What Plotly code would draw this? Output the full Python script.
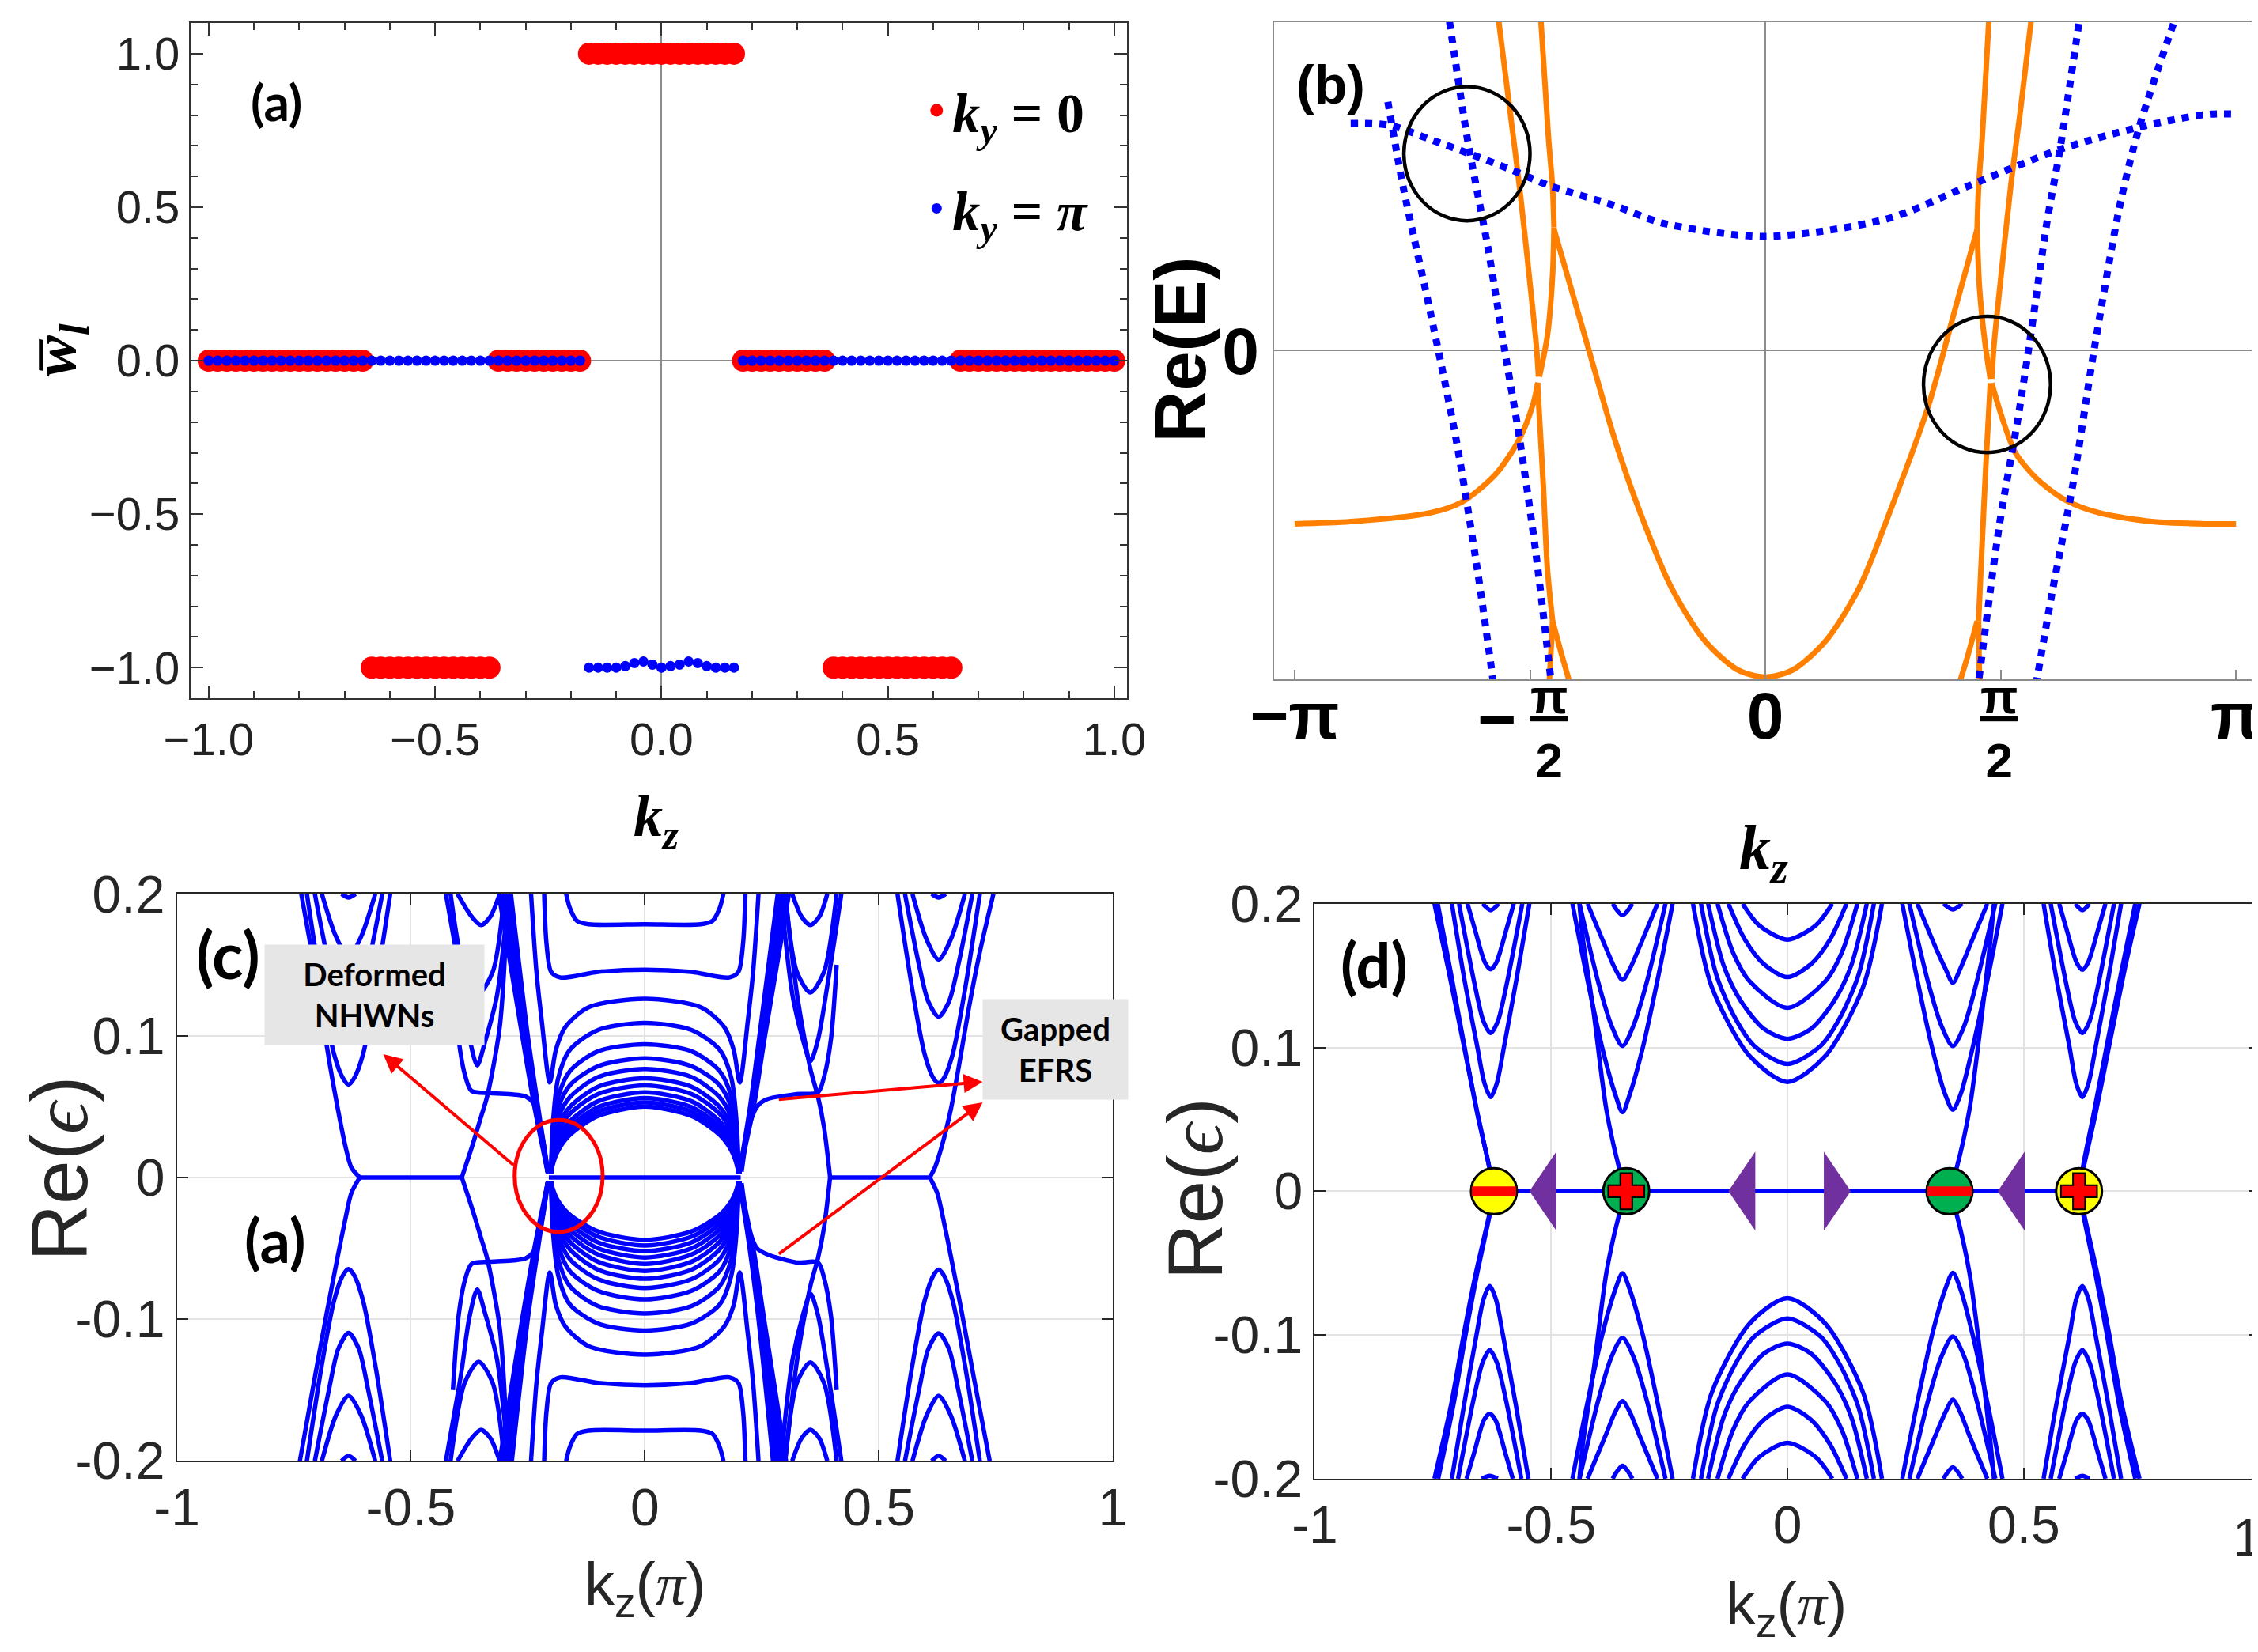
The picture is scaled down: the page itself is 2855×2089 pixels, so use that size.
import numpy as np
import plotly.graph_objects as go

# ---------------- panel (a): averaged winding number vs kz ----------------
kz_a = np.round(np.linspace(-1.0, 1.0, 101), 2)
w_ky0 = [0] * 18 + [-1] * 14 + [0] * 10 + [1] * 17 + [0] * 10 + [-1] * 14 + [0] * 18
w_kypi = ([0] * 42
          + [-1, -1, -1, -1, -0.995, -0.985, -0.98, -0.99, -1.0, -0.995, -0.99, -0.98, -0.985, -0.995, -1, -1, -1]
          + [0] * 42)

# ---------------- panel (b): Re(E) vs kz (x in units of pi) ----------------
b_orange = [
    ([-0.567, -0.545, -0.522, -0.500, -0.486, -0.482], [1.008, 0.757, 0.494, 0.204, 0.007, -0.079]),
    ([-0.477, -0.461, -0.452, -0.449], [1.008, 0.652, 0.494, 0.375]),
    ([-0.449, -0.452, -0.463, -0.480], [0.375, 0.231, 0.046, -0.079]),
    ([-0.449, -0.376, -0.32, -0.264, -0.20, -0.13, -0.06, 0.0, 0.06, 0.13, 0.20, 0.262, 0.346, 0.402, 0.450],
     [0.369, 0.007, -0.27, -0.50, -0.72, -0.88, -0.97, -0.993, -0.97, -0.88, -0.72, -0.50, -0.17, 0.12, 0.369]),
    ([-1.0, -0.881, -0.713, -0.645, -0.573, -0.523, -0.494, -0.483],
     [-0.527, -0.520, -0.494, -0.461, -0.376, -0.270, -0.165, -0.097]),
    ([-0.484, -0.472, -0.463, -0.452], [-0.099, -0.402, -0.665, -0.823]),
    ([-0.452, -0.459], [-0.823, -1.008]),
    ([-0.452, -0.432, -0.416], [-0.823, -0.929, -1.008]),
    ([0.475, 0.461, 0.453, 0.450], [1.008, 0.652, 0.494, 0.369]),
    ([0.450, 0.455, 0.467, 0.478], [0.369, 0.191, 0.020, -0.086]),
    ([0.565, 0.542, 0.523, 0.503, 0.486, 0.481], [1.008, 0.731, 0.520, 0.257, 0.020, -0.086]),
    ([0.481, 0.503, 0.531, 0.576, 0.638, 0.710, 0.822, 0.934, 1.0],
     [-0.099, -0.204, -0.310, -0.389, -0.455, -0.494, -0.520, -0.527, -0.527]),
    ([0.478, 0.469, 0.458, 0.453], [-0.099, -0.336, -0.665, -0.823]),
    ([0.453, 0.455], [-0.823, -1.008]),
    ([0.450, 0.430, 0.413], [-0.823, -0.929, -1.008]),
]
b_dotted = [
    ([-0.881, -0.80, -0.713, -0.629, -0.545, -0.455, -0.32, -0.219, 0.0, 0.262, 0.43, 0.626, 0.789, 0.934, 1.0],
     [0.691, 0.686, 0.643, 0.599, 0.553, 0.50, 0.441, 0.388, 0.347, 0.402, 0.50, 0.612, 0.678, 0.718, 0.72]),
    ([-0.802, -0.769, -0.713, -0.657, -0.612, -0.578], [0.757, 0.494, 0.125, -0.270, -0.665, -1.008]),
    ([-0.671, -0.634, -0.617, -0.589, -0.556, -0.522, -0.489, -0.455],
     [1.0, 0.652, 0.520, 0.310, 0.020, -0.270, -0.600, -1.008]),
    ([0.666, 0.626, 0.598, 0.565, 0.537, 0.497, 0.453], [0.994, 0.612, 0.388, 0.059, -0.204, -0.533, -1.008]),
    ([0.867, 0.794, 0.755, 0.699, 0.654, 0.610, 0.576], [0.994, 0.678, 0.454, 0.007, -0.402, -0.731, -1.008]),
]
b_circles = [(-0.634, 0.599, 0.134, 0.204), (0.471, -0.103, 0.135, 0.207)]

# ---------------- panel (c): deformed spectrum ----------------
c_eye_x = [-0.2, -0.197, -0.185, -0.16, -0.1, 0, 0.1, 0.16, 0.185, 0.197, 0.2]
c_eye_upper = [
    [0.003, 0.035, 0.07, 0.09, 0.104, 0.109, 0.104, 0.09, 0.07, 0.035, 0.003],
    [0.003, 0.028, 0.057, 0.075, 0.089, 0.094, 0.089, 0.075, 0.057, 0.028, 0.003],
    [0.003, 0.0235, 0.049, 0.065, 0.0785, 0.084, 0.0785, 0.065, 0.049, 0.0235, 0.003],
    [0.003, 0.02, 0.042, 0.0566, 0.0708, 0.0765, 0.0708, 0.0566, 0.042, 0.02, 0.003],
    [0.003, 0.017, 0.0364, 0.0497, 0.064, 0.070, 0.064, 0.0497, 0.0364, 0.017, 0.003],
    [0.003, 0.015, 0.032, 0.0449, 0.0588, 0.065, 0.0588, 0.0449, 0.032, 0.015, 0.003],
    [0.003, 0.013, 0.0276, 0.0396, 0.0537, 0.060, 0.0537, 0.0396, 0.0276, 0.013, 0.003],
    [0.003, 0.0112, 0.024, 0.0358, 0.0496, 0.056, 0.0496, 0.0358, 0.024, 0.0112, 0.003],
    [0.003, 0.0098, 0.0215, 0.0329, 0.0464, 0.053, 0.0464, 0.0329, 0.0215, 0.0098, 0.003],
    [0.003, 0.0085, 0.019, 0.030, 0.0433, 0.050, 0.0433, 0.030, 0.019, 0.0085, 0.003],
]
c_eye_lower = [
    [-0.003, -0.0075, -0.0167, -0.0264, -0.0381, -0.044, -0.0381, -0.0264, -0.0167, -0.0075, -0.003],
    [-0.003, -0.0086, -0.0187, -0.0293, -0.0418, -0.048, -0.0418, -0.0293, -0.0187, -0.0086, -0.003],
    [-0.003, -0.0099, -0.0213, -0.0328, -0.0458, -0.052, -0.0458, -0.0328, -0.0213, -0.0099, -0.003],
    [-0.003, -0.0113, -0.0243, -0.0367, -0.050, -0.0565, -0.050, -0.0367, -0.0243, -0.0113, -0.003],
    [-0.003, -0.0128, -0.0275, -0.0409, -0.0543, -0.061, -0.0543, -0.0409, -0.0275, -0.0128, -0.003],
    [-0.003, -0.0145, -0.031, -0.0455, -0.0594, -0.066, -0.0594, -0.0455, -0.031, -0.0145, -0.003],
    [-0.003, -0.0168, -0.0358, -0.0508, -0.0651, -0.0715, -0.0651, -0.0508, -0.0358, -0.0168, -0.003],
    [-0.003, -0.0195, -0.0413, -0.0577, -0.0718, -0.078, -0.0718, -0.0577, -0.0413, -0.0195, -0.003],
    [-0.003, -0.0232, -0.0482, -0.0662, -0.080, -0.086, -0.080, -0.0662, -0.0482, -0.0232, -0.003],
    [-0.003, -0.0278, -0.0576, -0.0768, -0.0907, -0.096, -0.0907, -0.0768, -0.0576, -0.0278, -0.003],
    [-0.003, -0.0346, -0.0691, -0.0896, -0.1031, -0.108, -0.1031, -0.0896, -0.0691, -0.0346, -0.003],
]
c_outer_arcs = [
    ([-0.243, -0.232, -0.22, -0.203, -0.19, -0.17, -0.12, 0, 0.12, 0.17, 0.19, 0.203, 0.22, 0.232, 0.243],
     [0.2, 0.147, 0.11, 0.067, 0.09, 0.106, 0.12, 0.126, 0.12, 0.106, 0.09, 0.067, 0.11, 0.147, 0.2]),
    ([-0.243, -0.232, -0.22, -0.203, -0.19, -0.17, -0.12, 0, 0.12, 0.17, 0.19, 0.203, 0.22, 0.232, 0.243],
     [-0.2, -0.147, -0.11, -0.067, -0.09, -0.105, -0.119, -0.125, -0.119, -0.105, -0.09, -0.067, -0.11, -0.147, -0.2]),
]
c_flat_bands = [
    ([-0.168, -0.16, -0.145, -0.12, 0, 0.12, 0.145, 0.16, 0.168], [0.2, 0.19, 0.181, 0.1786, 0.1786, 0.1786, 0.181, 0.19, 0.2]),
    ([-0.215, -0.21, -0.2, -0.18, -0.1, 0, 0.1, 0.18, 0.2, 0.21, 0.215],
     [0.2, 0.165, 0.145, 0.141, 0.145, 0.1466, 0.145, 0.141, 0.145, 0.165, 0.2]),
    ([-0.168, -0.16, -0.145, -0.12, 0, 0.12, 0.145, 0.16, 0.168], [-0.2, -0.19, -0.181, -0.1786, -0.1786, -0.1786, -0.181, -0.19, -0.2]),
    ([-0.215, -0.21, -0.2, -0.18, -0.1, 0, 0.1, 0.18, 0.2, 0.21, 0.215],
     [-0.2, -0.165, -0.145, -0.141, -0.145, -0.1466, -0.145, -0.141, -0.145, -0.165, -0.2]),
]
c_zero_lines = [
    ([-0.205, 0.205], [0, 0]),
    ([-0.609, -0.391], [0, 0]),
    ([0.396, 0.609], [0, 0]),
]
c_bundles = [
    ([-0.312, -0.262, -0.236, -0.207], [0.2, 0.1, 0.05, 0.003]),
    ([-0.305, -0.259, -0.234, -0.207], [0.2, 0.1, 0.05, 0.003]),
    ([-0.298, -0.256, -0.232, -0.207], [0.2, 0.1, 0.05, 0.003]),
    ([-0.292, -0.253, -0.230, -0.207], [0.2, 0.1, 0.05, 0.003]),
    ([-0.286, -0.250, -0.228, -0.207], [0.2, 0.1, 0.05, 0.003]),
    ([-0.310, -0.262, -0.236, -0.207], [-0.2, -0.1, -0.05, -0.003]),
    ([-0.303, -0.259, -0.234, -0.207], [-0.2, -0.1, -0.05, -0.003]),
    ([-0.296, -0.256, -0.232, -0.207], [-0.2, -0.1, -0.05, -0.003]),
    ([-0.290, -0.253, -0.230, -0.207], [-0.2, -0.1, -0.05, -0.003]),
    ([-0.284, -0.250, -0.228, -0.207], [-0.2, -0.1, -0.05, -0.003]),
    ([0.284, 0.245, 0.225, 0.202], [0.2, 0.1, 0.05, 0.003]),
    ([0.290, 0.248, 0.227, 0.202], [0.2, 0.1, 0.05, 0.003]),
    ([0.296, 0.251, 0.229, 0.202], [0.2, 0.1, 0.05, 0.003]),
    ([0.302, 0.254, 0.231, 0.202], [0.2, 0.1, 0.05, 0.003]),
    ([0.308, 0.257, 0.233, 0.202], [0.2, 0.1, 0.05, 0.003]),
    ([0.274, 0.243, 0.224, 0.202], [-0.2, -0.1, -0.05, -0.003]),
    ([0.281, 0.246, 0.226, 0.202], [-0.2, -0.1, -0.05, -0.003]),
    ([0.288, 0.249, 0.228, 0.202], [-0.2, -0.1, -0.05, -0.003]),
    ([0.295, 0.252, 0.230, 0.202], [-0.2, -0.1, -0.05, -0.003]),
    ([0.302, 0.255, 0.232, 0.202], [-0.2, -0.1, -0.05, -0.003]),
]
c_inner_left = [
    ([-0.41, -0.398, -0.384, -0.37, -0.33, -0.28, -0.254, -0.237, -0.222, -0.207],
     [0.15, 0.098, 0.072, 0.061, 0.0595, 0.0585, 0.057, 0.052, 0.035, 0.004]),
    ([-0.41, -0.398, -0.384, -0.37, -0.33, -0.28, -0.254, -0.237, -0.222, -0.207],
     [-0.15, -0.098, -0.072, -0.061, -0.0595, -0.0585, -0.057, -0.052, -0.035, -0.004]),
    ([-0.391, -0.367, -0.35, -0.338, -0.327, -0.31, -0.30, -0.295], [0, 0.024, 0.0426, 0.0556, 0.0724, 0.106, 0.15, 0.2]),
    ([-0.391, -0.367, -0.35, -0.338, -0.327, -0.31, -0.30, -0.295], [0, -0.024, -0.0426, -0.0556, -0.0724, -0.106, -0.15, -0.2]),
    ([-0.425, -0.392, -0.375, -0.358, -0.342, -0.316, -0.30, -0.292], [0.2, 0.1375, 0.099, 0.079, 0.095, 0.128, 0.17, 0.2]),
    ([-0.415, -0.385, -0.355, -0.325, -0.30], [0.2, 0.145, 0.13, 0.145, 0.2]),
    ([-0.40, -0.37, -0.35, -0.33, -0.31], [0.2, 0.184, 0.178, 0.184, 0.2]),
    ([-0.425, -0.392, -0.375, -0.358, -0.342, -0.316, -0.30, -0.292], [-0.2, -0.1375, -0.099, -0.079, -0.095, -0.128, -0.17, -0.2]),
    ([-0.415, -0.385, -0.355, -0.325, -0.30], [-0.2, -0.145, -0.13, -0.145, -0.2]),
    ([-0.40, -0.37, -0.35, -0.33, -0.31], [-0.2, -0.184, -0.178, -0.184, -0.2]),
]
c_inner_right = [
    ([0.207, 0.222, 0.24, 0.26, 0.3245, 0.37, 0.384, 0.398, 0.41], [0.004, 0.035, 0.05, 0.055, 0.0588, 0.06, 0.072, 0.098, 0.15]),
    ([0.207, 0.222, 0.24, 0.26, 0.3245, 0.37, 0.384, 0.398, 0.41], [-0.004, -0.035, -0.05, -0.054, -0.06, -0.06, -0.072, -0.098, -0.15]),
    ([0.396, 0.383, 0.37, 0.355, 0.34, 0.325, 0.31, 0.30], [0, 0.0354, 0.057, 0.075, 0.1, 0.13, 0.17, 0.2]),
    ([0.396, 0.383, 0.37, 0.355, 0.34, 0.325, 0.31, 0.30], [0, -0.0354, -0.057, -0.075, -0.1, -0.13, -0.17, -0.2]),
    ([0.292, 0.30, 0.316, 0.338, 0.354, 0.37, 0.39, 0.42], [0.2, 0.17, 0.128, 0.097, 0.082, 0.097, 0.135, 0.2]),
    ([0.30, 0.325, 0.354, 0.383, 0.41], [0.2, 0.145, 0.1305, 0.145, 0.2]),
    ([0.315, 0.335, 0.354, 0.373, 0.39], [0.2, 0.184, 0.178, 0.184, 0.2]),
    ([0.292, 0.30, 0.316, 0.338, 0.354, 0.37, 0.39, 0.42], [-0.2, -0.17, -0.128, -0.097, -0.082, -0.097, -0.135, -0.2]),
    ([0.30, 0.325, 0.354, 0.383, 0.41], [-0.2, -0.145, -0.1305, -0.145, -0.2]),
    ([0.315, 0.335, 0.354, 0.373, 0.39], [-0.2, -0.184, -0.178, -0.184, -0.2]),
]
c_outer_left = [
    ([-0.722, -0.691, -0.664, -0.645, -0.633, -0.621, -0.602, -0.575, -0.544], [0.2, 0.134, 0.087, 0.07, 0.0655, 0.07, 0.087, 0.134, 0.2]),
    ([-0.705, -0.675, -0.655, -0.633, -0.611, -0.591, -0.561], [0.2, 0.15, 0.124, 0.112, 0.124, 0.15, 0.2]),
    ([-0.69, -0.66, -0.633, -0.606, -0.576], [0.2, 0.17, 0.1555, 0.17, 0.2]),
    ([-0.648, -0.633, -0.618], [0.2, 0.1975, 0.2]),
    ([-0.722, -0.691, -0.664, -0.645, -0.633, -0.621, -0.602, -0.575, -0.544], [-0.2, -0.134, -0.087, -0.069, -0.0646, -0.069, -0.087, -0.134, -0.2]),
    ([-0.705, -0.675, -0.655, -0.633, -0.611, -0.591, -0.561], [-0.2, -0.15, -0.121, -0.1097, -0.121, -0.15, -0.2]),
    ([-0.69, -0.66, -0.633, -0.606, -0.576], [-0.2, -0.168, -0.154, -0.168, -0.2]),
    ([-0.648, -0.633, -0.618], [-0.2, -0.1965, -0.2]),
    ([-0.609, -0.627, -0.640, -0.656, -0.673, -0.692, -0.711, -0.734], [0, 0.007, 0.0224, 0.0484, 0.0796, 0.1185, 0.1575, 0.2]),
    ([-0.609, -0.627, -0.640, -0.656, -0.679, -0.705, -0.737], [0, -0.011, -0.0296, -0.0555, -0.0945, -0.141, -0.2]),
]
c_outer_right = [
    ([0.54, 0.571, 0.598, 0.617, 0.628, 0.639, 0.658, 0.685, 0.716], [0.2, 0.134, 0.087, 0.07, 0.0666, 0.07, 0.087, 0.134, 0.2]),
    ([0.556, 0.586, 0.606, 0.628, 0.65, 0.67, 0.70], [0.2, 0.15, 0.124, 0.1134, 0.124, 0.15, 0.2]),
    ([0.572, 0.602, 0.628, 0.654, 0.684], [0.2, 0.168, 0.1537, 0.168, 0.2]),
    ([0.613, 0.628, 0.643], [0.2, 0.1975, 0.2]),
    ([0.54, 0.571, 0.598, 0.617, 0.628, 0.639, 0.658, 0.685, 0.716], [-0.2, -0.134, -0.087, -0.069, -0.065, -0.069, -0.087, -0.134, -0.2]),
    ([0.556, 0.586, 0.606, 0.628, 0.65, 0.67, 0.70], [-0.2, -0.15, -0.121, -0.11, -0.121, -0.15, -0.2]),
    ([0.572, 0.602, 0.628, 0.654, 0.684], [-0.2, -0.168, -0.154, -0.168, -0.2]),
    ([0.613, 0.628, 0.643], [-0.2, -0.1965, -0.2]),
    ([0.609, 0.62, 0.635, 0.654, 0.672, 0.692, 0.715, 0.745], [0, 0.007, 0.0224, 0.048, 0.08, 0.1185, 0.1575, 0.2]),
    ([0.609, 0.625, 0.638, 0.654, 0.677, 0.703, 0.737], [0, -0.011, -0.0296, -0.0555, -0.0945, -0.141, -0.2]),
]

# ---------------- panel (d): spectrum with Weyl nodes ----------------
d_group1 = [
    ([-0.621, -0.633, -0.656, -0.684, -0.718, -0.747], [0, 0.02, 0.054, 0.1, 0.155, 0.2]),
    ([-0.621, -0.633, -0.656, -0.683, -0.714, -0.740], [0, 0.02, 0.054, 0.1, 0.155, 0.2]),
    ([-0.71, -0.685, -0.656, -0.641, -0.628, -0.615, -0.600, -0.572, -0.546], [0.2, 0.15, 0.1, 0.075, 0.0655, 0.075, 0.1, 0.15, 0.2]),
    ([-0.695, -0.661, -0.643, -0.628, -0.613, -0.595, -0.561], [0.2, 0.1426, 0.118, 0.110, 0.118, 0.1426, 0.2]),
    ([-0.677, -0.661, -0.640, -0.628, -0.616, -0.595, -0.579], [0.2, 0.1817, 0.159, 0.1543, 0.159, 0.1817, 0.2]),
    ([-0.645, -0.628, -0.611], [0.2, 0.1955, 0.2]),
    ([-0.621, -0.632, -0.66, -0.684, -0.712, -0.747], [0, -0.018, -0.058, -0.098, -0.149, -0.2]),
    ([-0.621, -0.631, -0.657, -0.680, -0.707, -0.739], [0, -0.018, -0.058, -0.098, -0.149, -0.2]),
    ([-0.71, -0.685, -0.658, -0.643, -0.630, -0.617, -0.602, -0.574, -0.548], [-0.2, -0.15, -0.1, -0.075, -0.066, -0.075, -0.1, -0.15, -0.2]),
    ([-0.697, -0.663, -0.645, -0.630, -0.615, -0.597, -0.563], [-0.2, -0.143, -0.119, -0.1105, -0.119, -0.143, -0.2]),
    ([-0.679, -0.663, -0.642, -0.630, -0.618, -0.597, -0.581], [-0.2, -0.182, -0.159, -0.1548, -0.159, -0.182, -0.2]),
    ([-0.647, -0.630, -0.613], [-0.2, -0.198, -0.2]),
]
d_group2 = [
    ([-0.341, -0.355, -0.383, -0.41, -0.433, -0.44], [0, 0.0148, 0.0565, 0.1243, 0.176, 0.2]),
    ([-0.455, -0.425, -0.392, -0.365, -0.349, -0.333, -0.306, -0.273, -0.243], [0.2, 0.15, 0.1, 0.068, 0.055, 0.068, 0.1, 0.15, 0.2]),
    ([-0.44, -0.40, -0.372, -0.349, -0.326, -0.298, -0.258], [0.2, 0.145, 0.115, 0.101, 0.115, 0.145, 0.2]),
    ([-0.423, -0.385, -0.365, -0.349, -0.333, -0.313, -0.275], [0.2, 0.17, 0.155, 0.147, 0.155, 0.17, 0.2]),
    ([-0.37, -0.349, -0.328], [0.2, 0.192, 0.2]),
    ([-0.341, -0.355, -0.383, -0.41, -0.433, -0.44], [0, -0.0148, -0.0565, -0.1243, -0.176, -0.2]),
    ([-0.455, -0.425, -0.392, -0.365, -0.349, -0.333, -0.306, -0.273, -0.243], [-0.2, -0.15, -0.1, -0.069, -0.057, -0.069, -0.1, -0.15, -0.2]),
    ([-0.44, -0.40, -0.372, -0.349, -0.326, -0.298, -0.258], [-0.2, -0.145, -0.115, -0.102, -0.115, -0.145, -0.2]),
    ([-0.423, -0.385, -0.365, -0.349, -0.333, -0.313, -0.275], [-0.2, -0.17, -0.154, -0.146, -0.154, -0.17, -0.2]),
    ([-0.37, -0.349, -0.328], [-0.2, -0.191, -0.2]),
]
d_center = [
    ([-0.2, -0.16, -0.08, 0, 0.08, 0.16, 0.2], [0.2, 0.142, 0.094, 0.076, 0.094, 0.142, 0.2]),
    ([-0.183, -0.15, -0.11, -0.07, 0, 0.07, 0.11, 0.15, 0.183], [0.2, 0.15, 0.12, 0.101, 0.0885, 0.101, 0.12, 0.15, 0.2]),
    ([-0.168, -0.135, -0.1, -0.05, 0, 0.05, 0.1, 0.135, 0.168], [0.2, 0.157, 0.133, 0.113, 0.106, 0.113, 0.133, 0.157, 0.2]),
    ([-0.148, -0.115, -0.08, 0, 0.08, 0.115, 0.148], [0.2, 0.166, 0.146, 0.1275, 0.146, 0.166, 0.2]),
    ([-0.125, -0.09, -0.05, 0, 0.05, 0.09, 0.125], [0.2, 0.175, 0.158, 0.149, 0.158, 0.175, 0.2]),
    ([-0.095, -0.06, 0, 0.06, 0.095], [0.2, 0.185, 0.175, 0.185, 0.2]),
    ([-0.2, -0.16, -0.08, 0, 0.08, 0.16, 0.2], [-0.2, -0.14, -0.092, -0.0743, -0.092, -0.14, -0.2]),
    ([-0.183, -0.15, -0.11, -0.07, 0, 0.07, 0.11, 0.15, 0.183], [-0.2, -0.15, -0.12, -0.101, -0.0885, -0.101, -0.12, -0.15, -0.2]),
    ([-0.168, -0.135, -0.1, -0.05, 0, 0.05, 0.1, 0.135, 0.168], [-0.2, -0.157, -0.133, -0.113, -0.106, -0.113, -0.133, -0.157, -0.2]),
    ([-0.148, -0.115, -0.08, 0, 0.08, 0.115, 0.148], [-0.2, -0.166, -0.146, -0.1275, -0.146, -0.166, -0.2]),
    ([-0.125, -0.09, -0.05, 0, 0.05, 0.09, 0.125], [-0.2, -0.176, -0.159, -0.150, -0.159, -0.176, -0.2]),
    ([-0.095, -0.06, 0, 0.06, 0.095], [-0.2, -0.185, -0.175, -0.185, -0.2]),
]
d_group4 = [
    ([0.343, 0.357, 0.385, 0.412, 0.43, 0.437], [0, 0.0148, 0.0565, 0.1243, 0.176, 0.2]),
    ([0.243, 0.273, 0.306, 0.333, 0.35, 0.367, 0.392, 0.425, 0.455], [0.2, 0.15, 0.1, 0.068, 0.0567, 0.068, 0.1, 0.15, 0.2]),
    ([0.258, 0.298, 0.326, 0.35, 0.374, 0.40, 0.44], [0.2, 0.145, 0.115, 0.101, 0.115, 0.145, 0.2]),
    ([0.275, 0.313, 0.334, 0.35, 0.366, 0.385, 0.423], [0.2, 0.17, 0.155, 0.145, 0.155, 0.17, 0.2]),
    ([0.33, 0.35, 0.37], [0.2, 0.196, 0.2]),
    ([0.343, 0.357, 0.385, 0.412, 0.43, 0.437], [0, -0.0148, -0.0565, -0.1243, -0.176, -0.2]),
    ([0.243, 0.273, 0.306, 0.333, 0.35, 0.367, 0.392, 0.425, 0.455], [-0.2, -0.15, -0.1, -0.069, -0.0567, -0.069, -0.1, -0.15, -0.2]),
    ([0.258, 0.298, 0.326, 0.35, 0.374, 0.40, 0.44], [-0.2, -0.145, -0.115, -0.101, -0.115, -0.145, -0.2]),
    ([0.275, 0.313, 0.334, 0.35, 0.366, 0.385, 0.423], [-0.2, -0.17, -0.154, -0.145, -0.154, -0.17, -0.2]),
    ([0.33, 0.35, 0.37], [-0.2, -0.192, -0.2]),
]
d_group5 = [
    ([0.617, 0.629, 0.652, 0.68, 0.714, 0.745], [0, 0.02, 0.054, 0.1, 0.155, 0.2]),
    ([0.617, 0.627, 0.648, 0.675, 0.708, 0.736], [0, 0.02, 0.054, 0.1, 0.155, 0.2]),
    ([0.542, 0.568, 0.597, 0.611, 0.624, 0.637, 0.652, 0.68, 0.706], [0.2, 0.15, 0.1, 0.075, 0.0655, 0.075, 0.1, 0.15, 0.2]),
    ([0.557, 0.591, 0.609, 0.624, 0.639, 0.657, 0.691], [0.2, 0.1426, 0.118, 0.110, 0.118, 0.1426, 0.2]),
    ([0.575, 0.591, 0.612, 0.624, 0.636, 0.657, 0.673], [0.2, 0.1817, 0.159, 0.154, 0.159, 0.1817, 0.2]),
    ([0.609, 0.624, 0.639], [0.2, 0.1955, 0.2]),
    ([0.617, 0.629, 0.656, 0.68, 0.708, 0.745], [0, -0.018, -0.058, -0.098, -0.149, -0.2]),
    ([0.617, 0.627, 0.652, 0.675, 0.702, 0.736], [0, -0.018, -0.058, -0.098, -0.149, -0.2]),
    ([0.542, 0.568, 0.597, 0.611, 0.624, 0.637, 0.652, 0.68, 0.706], [-0.2, -0.15, -0.1, -0.075, -0.066, -0.075, -0.1, -0.15, -0.2]),
    ([0.557, 0.591, 0.609, 0.624, 0.639, 0.657, 0.691], [-0.2, -0.143, -0.119, -0.1105, -0.119, -0.143, -0.2]),
    ([0.575, 0.591, 0.612, 0.624, 0.636, 0.657, 0.673], [-0.2, -0.182, -0.159, -0.1548, -0.159, -0.182, -0.2]),
    ([0.609, 0.624, 0.639], [-0.2, -0.198, -0.2]),
]
d_fermi_arc = [([-0.621, 0.617], [0, 0])]
d_node_x = [-0.621, -0.341, 0.343, 0.617]
d_node_color = ["#FFFF00", "#00B050", "#00B050", "#FFFF00"]
d_node_sign = ["-", "+", "-", "+"]
d_arrow_x = [-0.489, -0.068, 0.077, 0.502]
d_arrow_dir = ["left", "left", "right", "left"]

BLUE = "#0000FF"
SANS = "Liberation Sans, Arial, sans-serif"
SERIF = "Liberation Serif, Times New Roman, serif"
LABEL = "Lato, Open Sans, sans-serif"


def curves_trace(curves, xa, ya, color, width, dash="solid"):
    xs, ys = [], []
    for cx, cy in curves:
        xs += list(cx) + [None]
        ys += list(cy) + [None]
    return go.Scatter(x=xs, y=ys, xaxis=xa, yaxis=ya, mode="lines",
                      line=dict(color=color, width=width, dash=dash, shape="spline", smoothing=0.8),
                      showlegend=False, hoverinfo="skip")


fig = go.Figure()

# (a)
fig.add_trace(go.Scatter(x=kz_a, y=w_ky0, mode="markers", xaxis="x", yaxis="y",
                         marker=dict(color="#FF0000", size=28),
                         name="<b><i>k</i><sub><i>y</i></sub> = 0</b>", legendgroup="g1"))
fig.add_trace(go.Scatter(x=kz_a, y=w_kypi, mode="markers", xaxis="x", yaxis="y",
                         marker=dict(color=BLUE, size=13),
                         name="<b><i>k</i><sub><i>y</i></sub> = <i>π</i></b>", legendgroup="g2"))

# (b)
fig.add_trace(curves_trace(b_orange, "x2", "y2", "#FF8000", 7))
fig.add_trace(curves_trace(b_dotted, "x2", "y2", BLUE, 9, dash="9px,9px"))

# (c)
eye = [(c_eye_x, yy) for yy in c_eye_upper + c_eye_lower]
for group in [eye, c_outer_arcs, c_flat_bands, c_zero_lines, c_bundles,
              c_inner_left, c_inner_right, c_outer_left, c_outer_right]:
    fig.add_trace(curves_trace(group, "x3", "y3", BLUE, 5.5))

# (d)
for group in [d_group1, d_group2, d_center, d_group4, d_group5, d_fermi_arc]:
    fig.add_trace(curves_trace(group, "x4", "y4", BLUE, 5.5))

fig.add_trace(go.Scatter(x=d_node_x, y=[0] * len(d_node_x), xaxis="x4", yaxis="y4", mode="markers",
                         marker=dict(size=58, color=d_node_color, line=dict(color="black", width=3)),
                         showlegend=False, hoverinfo="skip"))
plus_x = [x for x, s in zip(d_node_x, d_node_sign) if s == "+"]
minus_x = [x for x, s in zip(d_node_x, d_node_sign) if s == "-"]
fig.add_trace(go.Scatter(x=plus_x, y=[0] * len(plus_x), xaxis="x4", yaxis="y4", mode="markers",
                         marker=dict(symbol="cross", size=38, color="#FF0000", line=dict(color="black", width=2)),
                         showlegend=False, hoverinfo="skip"))
fig.add_trace(go.Scatter(x=minus_x, y=[0] * len(minus_x), xaxis="x4", yaxis="y4", mode="markers",
                         marker=dict(symbol="line-ew", size=40, color="#FF0000", line=dict(color="#FF0000", width=12)),
                         showlegend=False, hoverinfo="skip"))

shapes = []
for cx, cy, rx, ry in b_circles:
    shapes.append(dict(type="circle", xref="x2", yref="y2", x0=cx - rx, x1=cx + rx, y0=cy - ry, y1=cy + ry,
                       line=dict(color="black", width=4.5)))
shapes.append(dict(type="circle", xref="x3", yref="y3", x0=-0.278, x1=-0.09, y0=-0.0385, y1=0.0405,
                   line=dict(color="#FF0000", width=5)))
for ax_, d_ in zip(d_arrow_x, d_arrow_dir):
    tip = -34 if d_ == "left" else 34
    shapes.append(dict(type="path", xref="x4", yref="y4", xsizemode="pixel", ysizemode="pixel",
                       xanchor=ax_, yanchor=0, path=f"M0,50 L0,-50 L{tip},0 Z",
                       fillcolor="#7030A0", line=dict(width=0)))


def note(x, y, text, font, xref="paper", yref="paper", xanchor="center", **kw):
    return dict(xref=xref, yref=yref, x=x, y=y, text=text, showarrow=False,
                xanchor=xanchor, yanchor="middle", font=font, **kw)


annotations = [
    # axis titles
    note(0.2876, 0.507, "<b><i>k</i></b><sub><b><i>z</i></b></sub>", dict(family=SERIF, size=74, color="black")),
    note(0.023, 0.792, "<b><i>w\u0305</i></b><sub><b><i>l</i></b></sub>", dict(family=SERIF, size=78, color="black"),
         textangle=-90),
    note(0.7783, 0.4878, "<b><i>k</i></b><sub><b><i>z</i></b></sub>", dict(family=SERIF, size=80, color="black")),
    note(0.5198, 0.792, "<b>Re(E)</b>", dict(family=SANS, size=90, color="black"), textangle=-90),
    note(0.2827, 0.0426, "k<sub>z</sub>(<span style='font-family:Liberation Serif'><i>π</i></span>)",
         dict(family=SANS, size=76, color="#262626")),
    note(0.0235, 0.2963, "Re(<span style='font-family:Liberation Serif'><i>ϵ</i></span>)",
         dict(family=SANS, size=100, color="#262626"), textangle=-90),
    note(0.7881, 0.0306, "k<sub>z</sub>(<span style='font-family:Liberation Serif'><i>π</i></span>)",
         dict(family=SANS, size=76, color="#262626")),
    note(0.5265, 0.2843, "Re(<span style='font-family:Liberation Serif'><i>ϵ</i></span>)",
         dict(family=SANS, size=98, color="#262626"), textangle=-90),
    # last tick label of panel (d), kept inside the page
    note(0.9995, 0.0733, "1", dict(family=SANS, size=66, color="#262626"), xanchor="right"),
    # fractional tick labels of panel (b)
    note(-0.459, 0.563, "<b><span style='text-decoration:underline'>π</span><br>2</b>",
         dict(family=SANS, size=62, color="black"), xref="x2"),
    note(-0.570, 0.5685, "<b>−</b>", dict(family=SANS, size=84, color="black"), xref="x2"),
    note(0.497, 0.563, "<b><span style='text-decoration:underline'>π</span><br>2</b>",
         dict(family=SANS, size=62, color="black"), xref="x2"),
    # panel labels
    note(-0.85, 0.845, "<b>(a)</b>", dict(family=LABEL, size=64, color="black"), xref="x", yref="y"),
    note(-0.923, 0.81, "<b>(b)</b>", dict(family=SANS, size=68, color="black"), xref="x2", yref="y2"),
    note(-0.891, 0.158, "<b>(c)</b>", dict(family=LABEL, size=82, color="black"), xref="x3", yref="y3"),
    note(-0.79, -0.044, "<b>(a)</b>", dict(family=LABEL, size=76, color="black"), xref="x3", yref="y3"),
    note(-0.874, 0.158, "<b>(d)</b>", dict(family=LABEL, size=78, color="black"), xref="x4", yref="y4"),
    # callout boxes
    note(-0.577, 0.129, "<b>Deformed<br>NHWNs</b>", dict(family=LABEL, size=40, color="black"),
         xref="x3", yref="y3", width=275, height=124, bgcolor="#E6E6E6"),
    note(0.878, 0.0903, "<b>Gapped<br>EFRS</b>", dict(family=LABEL, size=40, color="black"),
         xref="x3", yref="y3", width=181, height=124, bgcolor="#E6E6E6"),
]
for (hx, hy, tx, ty) in [(-0.559, 0.087, -0.278, 0.008), (0.722, 0.0675, 0.284, 0.055), (0.722, 0.053, 0.284, -0.0546)]:
    annotations.append(dict(xref="x3", yref="y3", axref="x3", ayref="y3", x=hx, y=hy, ax=tx, ay=ty,
                            text="", showarrow=True, arrowhead=2, arrowsize=1.2, arrowwidth=4,
                            arrowcolor="#FF0000"))

frame_a = dict(showline=True, linecolor="#333", linewidth=2, mirror="allticks", ticks="inside",
               ticklen=16, tickwidth=2, tickcolor="#333", showgrid=False, zeroline=True,
               zerolinecolor="#8c8c8c", zerolinewidth=2,
               tickfont=dict(family=SANS, size=58, color="#222"))
frame_b = dict(showline=True, linecolor="#8c8c8c", linewidth=2, mirror=True, ticks="inside",
               ticklen=12, tickwidth=2, tickcolor="#8c8c8c", showgrid=False, zeroline=True,
               zerolinecolor="#8c8c8c", zerolinewidth=2,
               tickfont=dict(family=SANS, size=84, color="black"))
frame_m = dict(showline=True, linecolor="#262626", linewidth=2, mirror="allticks", ticks="inside",
               ticklen=14, tickwidth=2, tickcolor="#262626", showgrid=True, gridcolor="#E3E3E3",
               gridwidth=2, zeroline=False, tickfont=dict(family=SANS, size=66, color="#262626"))

fig.update_layout(
    width=2855, height=2089, margin=dict(l=0, r=0, t=0, b=0),
    template="none", paper_bgcolor="white", plot_bgcolor="white", hovermode=False,
    xaxis=dict(domain=[0.0816, 0.4963], range=[-1.04, 1.028], anchor="y",
               tickvals=[-1, -0.5, 0, 0.5, 1], tickformat=".1f",
               minor=dict(dtick=0.1, ticks="inside", ticklen=9, tickcolor="#333", tickwidth=1.5), **frame_a),
    yaxis=dict(domain=[0.5811, 0.9899], range=[-1.1, 1.1], anchor="x",
               tickvals=[-1, -0.5, 0, 0.5, 1], tickformat=".1f",
               minor=dict(dtick=0.1, ticks="inside", ticklen=9, tickcolor="#333", tickwidth=1.5), **frame_a),
    xaxis2=dict(domain=[0.5614, 0.9958], range=[-1.044, 1.04], anchor="y2",
                tickvals=[-1, 0, 1], ticktext=["<b>−π</b>", "<b>0</b>", "<b>π</b>"],
                minor=dict(dtick=0.5, tick0=0, ticks="inside", ticklen=12, tickcolor="#8c8c8c", tickwidth=2),
                ticklabelstandoff=-28, **frame_b),
    yaxis2=dict(domain=[0.5926, 0.9906], range=[-1, 1], anchor="x2",
                tickvals=[0], ticktext=["<b>0</b>"], **frame_b),
    xaxis3=dict(domain=[0.0755, 0.4900], range=[-1, 1], anchor="y3",
                tickvals=[-1, -0.5, 0, 0.5, 1], ticktext=["-1", "-0.5", "0", "0.5", "1"], **frame_m),
    yaxis3=dict(domain=[0.1195, 0.4627], range=[-0.2, 0.2], anchor="x3",
                tickvals=[-0.2, -0.1, 0, 0.1, 0.2], ticktext=["-0.2", "-0.1", "0", "0.1", "0.2"], **frame_m),
    xaxis4=dict(domain=[0.5795, 0.9981], range=[-1, 1], anchor="y4",
                tickvals=[-1, -0.5, 0, 0.5], ticktext=["-1", "-0.5", "0", "0.5"], **frame_m),
    yaxis4=dict(domain=[0.1087, 0.4568], range=[-0.2, 0.2], anchor="x4",
                tickvals=[-0.2, -0.1, 0, 0.1, 0.2], ticktext=["-0.2", "-0.1", "0", "0.1", "0.2"], **frame_m),
    legend=dict(x=0.405, y=0.962, xanchor="left", yanchor="top", bgcolor="rgba(0,0,0,0)",
                font=dict(family=SERIF, size=70, color="black"), itemsizing="trace", tracegroupgap=30),
    shapes=shapes, annotations=annotations,
)

fig.write_html("out.html")
